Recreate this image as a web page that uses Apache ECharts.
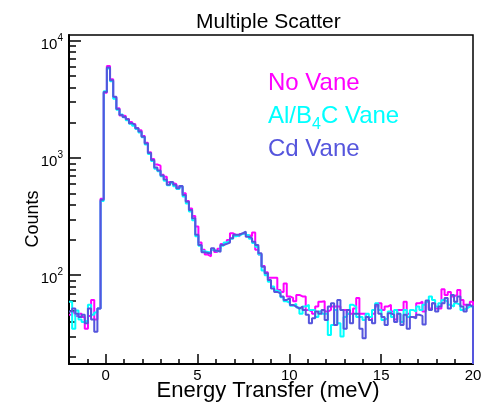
<!DOCTYPE html>
<html>
<head>
<meta charset="utf-8">
<script src="https://cdn.jsdelivr.net/npm/echarts@6/dist/echarts.min.js"></script>
<style>
html,body{margin:0;padding:0;background:#fff;}
#c{width:489px;height:406px;}
</style>
</head>
<body>
<div id="c"></div>
<script>
// ---- Data ----
const histMin = -2;
const histMax = 20;
const nBins = 128;

const noVane = [
 46, 48, 45, 47, 44, 35, 45, 61.5, 42, 52, 450,
 3600, 6100, 4700, 3300, 2650, 2300, 2280, 2150, 2030, 1950,
 1800, 1720, 1540, 1350, 1120, 980, 880, 860, 720, 690,
 620, 610, 600, 570, 560, 500, 430, 370, 320, 260,
 190, 165, 150, 145, 165, 158, 168, 185, 190, 200,
 228, 220, 215, 225, 230, 220, 215, 232, 165, 150,
 120, 106, 95, 95, 95, 75, 72, 85, 66, 64, 60, 68,
 66, 66, 50.6, 49, 47, 54, 59.5, 60, 49, 50.6, 54, 54, 54, 50.6, 50.6, 47, 47, 52, 64, 47, 47, 44, 41.6, 47, 54, 57.6, 50.6,
 54, 56, 49, 42, 50.6, 50.6, 59.5, 47, 44, 44, 57.6, 59.5, 49, 59.5, 52, 57.6, 52, 52, 76, 68, 72, 66, 68, 75, 61.5, 56, 54, 59.5
];
const alB4CVane = [
 59.5, 35, 50, 42, 40, 41, 56, 46, 48, 52, 430,
 3700, 5800, 4500, 3200, 2580, 2350, 2220, 2100, 1960, 1880,
 1770, 1650, 1500, 1300, 1080, 940, 810, 770, 700, 640,
 585, 610, 575, 545, 570, 470, 410, 350, 295, 215,
 178, 160, 158, 156, 165, 160, 162, 178, 190, 195,
 205, 215, 218, 225, 230, 220, 205, 188, 175, 150,
 110, 100, 88, 80, 74, 72, 65, 60, 58, 55, 57, 53,
 47, 54, 56, 50.6, 50.6, 44, 49, 47, 47, 31, 37.7, 50.6, 39, 30, 44, 47, 56, 54, 44, 44, 41.6, 47, 44, 50.6, 57.6, 50.6, 41.6,
 43, 49, 44, 50.6, 47, 40, 50.6, 44, 50.6, 49, 54, 50.6, 56, 59.5, 66, 61.5, 54, 57.6, 61.5, 59.5, 56, 54, 57.6, 56, 50.6, 52, 54, 54
];
const cdVane = [
 49, 52, 47, 44, 46, 39, 52, 42, 33, 52, 440,
 3650, 5900, 4600, 3330, 2620, 2330, 2240, 2140, 1980, 1910,
 1790, 1680, 1520, 1330, 1100, 960, 830, 780, 710, 655,
 590, 625, 590, 552, 577, 484, 424, 360, 306, 221,
 181, 157, 155, 153, 170, 162, 158, 181, 185, 190,
 207, 221, 221, 228, 236, 213, 207, 193, 181, 154,
 118, 104, 91, 77, 72, 70, 66, 61.5, 63.7, 55.8, 54, 52,
 54, 50.6, 46, 39, 43, 49, 47, 50.6, 41.6, 54, 57.6, 37.7, 61.5, 50.6, 35, 50.6, 39, 47, 47, 35, 29, 44, 41.6, 39, 56, 47, 44,
 37.7, 47.4, 46, 40, 47, 37.7, 46, 35, 44, 43, 46, 45, 38, 61, 50.6, 57.6, 49, 54, 57.6, 64, 52, 68, 59.5, 66, 54, 49, 56, 54
];

const seriesNames = ['No Vane', 'Al/B4C Vane', 'Cd Vane'];
const seriesColors = ['#ff00ff', '#00ffff', '#5555dd'];

const xTickLabels = [0, 5, 10, 15, 20];
const yMajorTicks = [100, 1000, 10000];
const yMinorTicks = [20,30,40,50,60,70,80,90,200,300,400,500,600,700,800,900,2000,3000,4000,5000,6000,7000,8000,9000];
const yMin = 17.5;
const yMax = 11185;

// ---- Build step-histogram points (bin lower edge, content) ----
function histPoints(vals) {
  const w = (histMax - histMin) / nBins;
  const pts = vals.map((v, k) => [histMin + k * w, v]);
  pts.push([histMax, vals[vals.length - 1]]);
  pts.push([histMax, yMin]);
  return pts;
}
const allData = [noVane, alB4CVane, cdVane];

const chart = echarts.init(document.getElementById('c'), null, {renderer: 'canvas'});
const FONT = 'Liberation Sans, Arial, Helvetica, sans-serif';

const option = {
  animation: false,
  backgroundColor: '#fff',
  textStyle: {fontFamily: FONT},
  title: {
    text: 'Multiple Scatter',
    left: 191, top: 7,
    textStyle: {fontFamily: FONT, fontSize: 21, fontWeight: 'normal', color: '#000'}
  },
  grid: {
    left: 69, right: 16, top: 35, bottom: 42,
    outerBoundsMode: 'none', containLabel: false,
    show: true, borderColor: '#000', borderWidth: 1.5, backgroundColor: 'transparent'
  },
  legend: {
    orient: 'vertical',
    left: 258, top: 62,
    icon: 'none', itemWidth: 0, itemHeight: 0, itemGap: 0,
    selectedMode: false,
    data: seriesNames.map((n, i) => ({name: n, textStyle: {color: seriesColors[i]}})),
    formatter: function (name) {
      if (name === 'Al/B4C Vane') return 'Al/B{sub|4}C Vane';
      return name;
    },
    textStyle: {
      fontFamily: FONT, fontSize: 24, lineHeight: 33,
      rich: {
        sub: {fontFamily: FONT, fontSize: 16, lineHeight: 33, verticalAlign: 'bottom'}
      }
    }
  },
  xAxis: [{
    type: 'value', min: histMin, max: histMax, interval: 1,
    axisLine: {show: true, onZero: false, lineStyle: {color: '#000', width: 2}},
    axisTick: {show: true, inside: true, length: 5, lineStyle: {color: '#000', width: 1.5}},
    axisLabel: {
      show: true, margin: 4, fontFamily: FONT, fontSize: 15, color: '#000',
      formatter: function (v) { return xTickLabels.indexOf(v) >= 0 ? String(v) : ''; }
    },
    splitLine: {show: false}
  }, {
    type: 'value', min: histMin, max: histMax, position: 'bottom', gridIndex: 0,
    axisLine: {show: false, onZero: false},
    axisTick: {show: true, inside: true, length: 10, customValues: xTickLabels, lineStyle: {color: '#000', width: 1.5}},
    axisLabel: {show: false},
    splitLine: {show: false}
  }],
  yAxis: [{
    type: 'log', min: yMin, max: yMax, logBase: 10,
    axisLine: {show: true, onZero: false, lineStyle: {color: '#000', width: 2}},
    axisTick: {show: true, inside: true, length: 12, customValues: yMajorTicks, lineStyle: {color: '#000', width: 1.5}},
    axisLabel: {
      show: true, margin: 6, customValues: yMajorTicks, color: '#000', fontFamily: FONT,
      formatter: function (v) { return '{b|10}{e|' + Math.round(Math.log10(v)) + '}'; },
      rich: {
        b: {fontFamily: FONT, fontSize: 15, color: '#000', padding: [8, 0, 0, 0]},
        e: {fontFamily: FONT, fontSize: 10, color: '#000', verticalAlign: 'top', padding: [4, 0, 0, 0]}
      }
    },
    splitLine: {show: false},
    minorTick: {show: false}
  }, {
    type: 'log', min: yMin, max: yMax, logBase: 10, position: 'left', gridIndex: 0,
    axisLine: {show: false, onZero: false},
    axisTick: {show: true, inside: true, length: 7, customValues: yMinorTicks, lineStyle: {color: '#000', width: 1.5}},
    axisLabel: {show: false},
    splitLine: {show: false}
  }],
  graphic: [{
    type: 'text',
    x: 33, y: 219,
    rotation: Math.PI / 2,
    style: {text: 'Counts', font: '18px ' + FONT, fill: '#000', align: 'center', verticalAlign: 'middle'}
  }, {
    type: 'text',
    x: 268, y: 391,
    style: {text: 'Energy Transfer (meV)', font: '22px ' + FONT, fill: '#000', align: 'center', verticalAlign: 'middle'}
  }],
  series: seriesNames.map((n, i) => ({
    name: n,
    type: 'line',
    step: 'end',
    showSymbol: false,
    symbol: 'none',
    xAxisIndex: 0, yAxisIndex: 0,
    data: histPoints(allData[i]),
    lineStyle: {color: seriesColors[i], width: 2},
    itemStyle: {color: seriesColors[i]},
    clip: true,
    z: 2 + i
  }))
};
chart.setOption(option);
</script>
</body>
</html>
